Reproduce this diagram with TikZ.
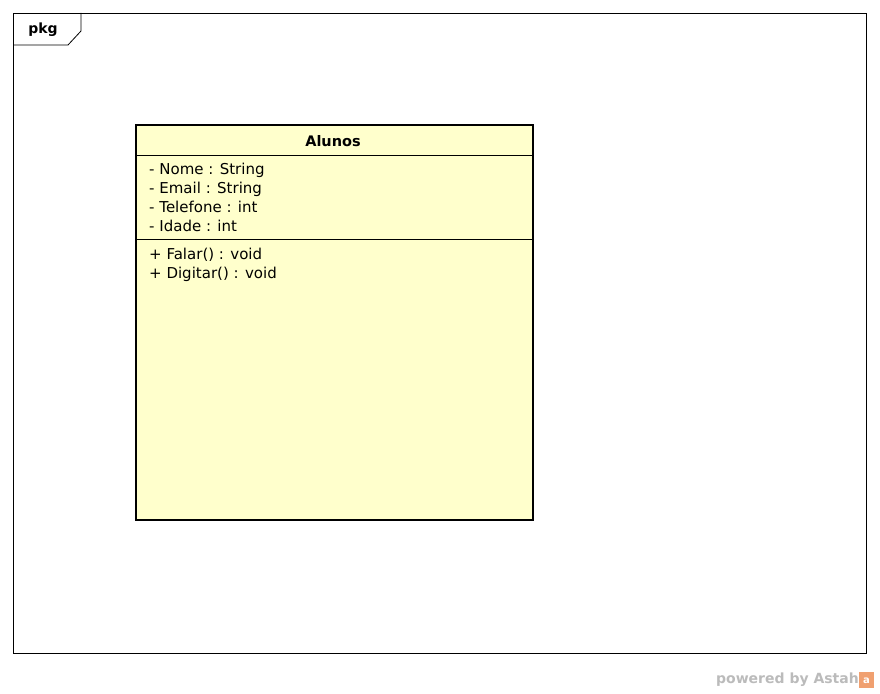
\documentclass[tikz,border=0pt]{standalone}
\usepackage{fontspec}
\setmainfont{DejaVu Sans}
\definecolor{classfill}{HTML}{FFFFCC}
\definecolor{astahgray}{HTML}{BBBBBB}
\definecolor{astahorange}{HTML}{F0A070}
\tikzset{
  frameline/.style={draw=black, line width=0.8pt},
  classbox/.style={draw=black, fill=classfill, line width=2.6pt},
  sepline/.style={draw=black, line width=0.9pt},
  member/.style={anchor=west, inner sep=0pt, font=\fontsize{15}{17}\selectfont},
}
\begin{document}
\begin{tikzpicture}[x=1pt,y=-1pt]
\useasboundingbox (0,0) rectangle (880,693);
\fill[white] (0,0) rectangle (880,693);
% package frame
\draw[frameline] (13,13) rectangle (866,653);
\draw[frameline] (13,45) -- (68,45) -- (81,31) -- (81,13);
\node[inner sep=0pt, font=\bfseries\fontsize{14}{16}\selectfont] (pkg) at (43,30) {pkg};
% class
\draw[classbox] (136,125) rectangle (533,520);
\draw[sepline] (136,155) -- (533,155);
\draw[sepline] (136,239) -- (533,239);
\node[inner sep=0pt, font=\bfseries\fontsize{14.5}{16}\selectfont] (title) at (333,141) {Alunos};
\node[member] (a1) at (149,170) {- Nome : String};
\node[member] (a2) at (149,189) {- Email : String};
\node[member] (a3) at (149,207) {- Telefone : int};
\node[member] (a4) at (149,226) {- Idade : int};
\node[member] (m1) at (149,255) {+ Falar() : void};
\node[member] (m2) at (149,274) {+ Digitar() : void};
% watermark
\node[anchor=east, inner sep=0pt, text=astahgray, font=\bfseries\fontsize{14}{16}\selectfont] (pw) at (859,680) {powered by Astah};
\fill[astahorange] (859,672) rectangle (874,688);
\node[inner sep=0pt, text=white, font=\bfseries\fontsize{10}{11}\selectfont] (logo) at (866.5,681) {a};
\end{tikzpicture}
\end{document}
